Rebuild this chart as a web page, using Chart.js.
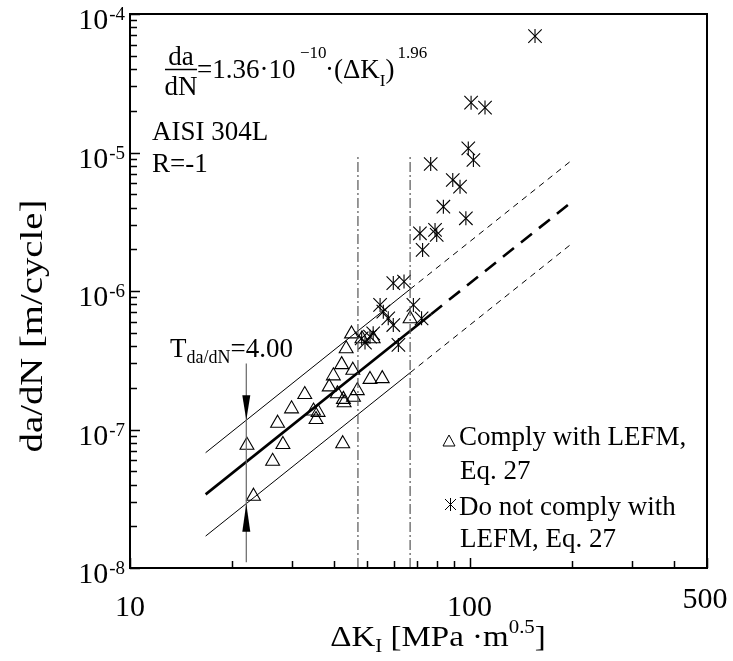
<!DOCTYPE html>
<html>
<head>
<meta charset="utf-8">
<script src="https://cdn.jsdelivr.net/npm/chart.js@4.4.0/dist/chart.umd.min.js"></script>
<style>
  html, body { margin: 0; padding: 0; background: #fff; }
  #wrap { width: 733px; height: 661px; }
</style>
</head>
<body>
<div id="wrap"><canvas id="fcgChart" width="733" height="661"></canvas></div>
<script>
// values (Delta K in MPa*m^0.5, da/dN in m/cycle)
const triK = [22.1, 23.1, 26.3, 28.2, 27.2, 29.9, 32.7, 34.7, 35.3, 35.8, 38.6, 39.7, 40.8, 42.0,
              42.3, 42.5, 42.7, 43.3, 44.9, 45.3, 45.5, 46.7, 48.2, 50.9, 52.0, 55.3, 66.8];
const triRate = [7.7e-8, 3.3e-8, 5.9e-8, 7.8e-8, 1.11e-7, 1.41e-7, 1.79e-7, 1.36e-7, 1.18e-7, 1.33e-7, 2.03e-7, 2.44e-7, 1.81e-7, 2.94e-7,
                 7.9e-8, 1.65e-7, 1.56e-7, 3.83e-7, 4.9e-7, 2.68e-7, 1.71e-7, 1.91e-7, 4.52e-7, 2.3e-7, 4.52e-7, 2.33e-7, 6.3e-7];

const starK = [155.8, 101, 111, 99.1, 102.6, 76.8, 89.2, 93.7, 83.7, 97.5, 71.4, 79.1, 80.0, 72.7,
               59.6, 64.1, 68.3, 72.2, 54.5, 55.7, 57.6, 59.6, 61.7, 52.0, 48.1, 49.2, 50.9];
const starRate = [6.93e-5, 2.29e-5, 2.11e-5, 1.07e-5, 8.83e-6, 8.26e-6, 6.33e-6, 5.67e-6, 4.06e-6, 3.35e-6, 2.61e-6, 2.76e-6, 2.54e-6, 1.98e-6,
                  1.14e-6, 1.17e-6, 7.93e-7, 6.35e-7, 7.93e-7, 7.09e-7, 6.35e-7, 5.68e-7, 4.08e-7, 4.95e-7, 4.55e-7, 4.24e-7, 4.68e-7];

// fitted curve and scatter band (solid part, then extrapolated dashed part)
const fitK = [16.7, 77, 200];
const fitRate = [3.4e-8, 6.8e-7, 4.4e-6];
const bandK = [16.7, 66.8, 200];
const bandUpper = [6.8e-8, 1.03e-6, 8.8e-6];
const bandLower = [1.7e-8, 2.57e-7, 2.2e-6];

// LEFM validity limits (dash-dot verticals)
const limitK = [46.9, 66.8];
const limitRate = [1e-8, 9.6e-6];

// scatter band marker T
const tK = 22.0;
const tSpan = [1.1e-8, 3.0e-7];
const arrowDown = [1.17e-7, 1.77e-7];   // tip, base
const arrowUp = [2.91e-8, 1.83e-8];     // tip, base

const xMajor = [10, 100, 500];
const xMajorLabels = ['10', '100', '500'];
const xMinor = [20, 30, 40, 50, 60, 70, 80, 90, 200, 300, 400];
const yMajorExp = [-8, -7, -6, -5, -4];

const SERIF = '"Liberation Serif", "Times New Roman", serif';

function pts(xs, ys) {
    return xs.map((v, i) => ({ x: v, y: ys[i] }));
}

function lineSet(xs, ys, width, dash, color) {
    return {
        data: pts(xs, ys),
        showLine: true,
        pointRadius: 0,
        borderColor: color || '#000',
        borderWidth: width,
        borderDash: dash || [],
        borderCapStyle: 'butt'
    };
}

// text made of pieces: [text, size, dy]
function runs(ctx, x, y, parts) {
    for (const [t, s, dy] of parts) {
        ctx.font = s + 'px ' + SERIF;
        ctx.fillText(t, x, y + dy);
        x += ctx.measureText(t).width;
    }
    return x;
}

const overlay = {
    id: 'overlay',
    afterDatasetsDraw(chart) {
        const { ctx, chartArea: a, scales: { x, y } } = chart;
        ctx.save();
        ctx.fillStyle = '#000';
        ctx.strokeStyle = '#000';

        // arrowheads of the T marker
        const ax = x.getPixelForValue(tK);
        [arrowDown, arrowUp].forEach(([tip, base]) => {
            const ty = y.getPixelForValue(tip), by = y.getPixelForValue(base);
            ctx.beginPath();
            ctx.moveTo(ax, ty);
            ctx.lineTo(ax - 4, by);
            ctx.lineTo(ax + 4, by);
            ctx.closePath();
            ctx.fill();
        });

        // frame
        ctx.lineWidth = 2;
        ctx.strokeRect(a.left, a.top, a.right - a.left, a.bottom - a.top);

        // ticks (inside)
        ctx.lineWidth = 1.5;
        ctx.beginPath();
        xMajor.forEach(v => {
            const px = Math.round(x.getPixelForValue(v)) + 0.5;
            ctx.moveTo(px, a.bottom); ctx.lineTo(px, a.bottom - 10);
        });
        xMinor.forEach(v => {
            const px = Math.round(x.getPixelForValue(v)) + 0.5;
            ctx.moveTo(px, a.bottom); ctx.lineTo(px, a.bottom - 7);
        });
        yMajorExp.forEach((e, i) => {
            const py = Math.round(y.getPixelForValue(Math.pow(10, e))) + 0.5;
            ctx.moveTo(a.left, py); ctx.lineTo(a.left + 10, py);
            if (i < yMajorExp.length - 1) {
                for (let m = 2; m <= 9; m++) {
                    const my = Math.round(y.getPixelForValue(m * Math.pow(10, e))) + 0.5;
                    ctx.moveTo(a.left, my); ctx.lineTo(a.left + 7, my);
                }
            }
        });
        ctx.stroke();

        // tick labels
        ctx.textBaseline = 'alphabetic';
        ctx.font = '30px ' + SERIF;
        ctx.textAlign = 'center';
        xMajor.forEach((v, i) => {
            const px = x.getPixelForValue(v);
            ctx.fillText(xMajorLabels[i], i === 2 ? px - 2 : px, i === 2 ? 608 : 616);
        });
        yMajorExp.forEach(e => {
            const py = y.getPixelForValue(Math.pow(10, e));
            ctx.textAlign = 'right';
            ctx.font = '19px ' + SERIF;
            ctx.fillText(String(e), a.left - 5, py + 6);
            const ew = ctx.measureText(String(e)).width;
            ctx.font = '30px ' + SERIF;
            ctx.fillText('10', a.left - 6 - ew, py + 15);
        });
        ctx.textAlign = 'left';

        // axis titles
        const xt = [['\u0394K', 30, 0], ['I', 19, 6], [' [MPa \u00b7m', 30, 0], ['0.5', 19, -13], [']', 30, 0]];
        let w = 0;
        xt.forEach(([t, s]) => { ctx.font = s + 'px ' + SERIF; w += ctx.measureText(t).width; });
        ctx.save();
        ctx.translate(438, 646);
        ctx.scale(1.1, 1);
        runs(ctx, -w / 2, 0, xt);
        ctx.restore();

        ctx.save();
        ctx.translate(42, 326);
        ctx.rotate(-Math.PI / 2);
        ctx.scale(1.25, 1);
        ctx.font = '31px ' + SERIF;
        ctx.textAlign = 'center';
        ctx.fillText('da/dN [m/cycle]', 0, 0);
        ctx.restore();

        // equation
        ctx.font = '27px ' + SERIF;
        ctx.textAlign = 'center';
        ctx.fillText('da', 181, 65);
        ctx.fillText('dN', 181, 95);
        ctx.textAlign = 'left';
        ctx.lineWidth = 1.5;
        ctx.beginPath();
        ctx.moveTo(165, 69.5); ctx.lineTo(197, 69.5);
        ctx.stroke();
        runs(ctx, 197, 78, [['=1.36\u00b710', 27, 0]]);
        runs(ctx, 300, 78, [['\u221210', 17, -20]]);
        const close = runs(ctx, 325, 78, [['\u00b7(\u0394K', 27, 0], ['I', 17, 8], [')', 27, 0]]);
        runs(ctx, close + 3, 78, [['1.96', 17, -20]]);

        ctx.font = '27px ' + SERIF;
        ctx.fillText('AISI 304L', 152, 140);
        ctx.fillText('R=-1', 152, 172);

        runs(ctx, 170, 357, [['T', 27, 0], ['da/dN', 18, 6], ['=4.00', 27, 0]]);

        // legend
        ctx.lineWidth = 1;
        ctx.beginPath();
        ctx.moveTo(449, 435); ctx.lineTo(443, 446); ctx.lineTo(455, 446); ctx.closePath();
        ctx.moveTo(450.5, 498); ctx.lineTo(450.5, 511);
        ctx.moveTo(445, 499); ctx.lineTo(456, 510);
        ctx.moveTo(456, 499); ctx.lineTo(445, 510);
        ctx.stroke();
        ctx.font = '27px ' + SERIF;
        ctx.fillText('Comply with LEFM,', 459, 445);
        ctx.fillText('Eq. 27', 460, 479);
        ctx.fillText('Do not comply with', 459, 515);
        ctx.fillText('LEFM, Eq. 27', 460, 547);

        ctx.restore();
    }
};

new Chart(document.getElementById('fcgChart').getContext('2d'), {
    type: 'scatter',
    data: {
        datasets: [
            lineSet([limitK[0], limitK[0]], limitRate, 1.2, [10, 3, 2, 3], '#555'),
            lineSet([limitK[1], limitK[1]], limitRate, 1.2, [10, 3, 2, 3], '#555'),
            lineSet([tK, tK], tSpan, 1.2, [], '#666'),
            lineSet(fitK.slice(0, 2), fitRate.slice(0, 2), 2.6),
            lineSet(fitK.slice(1), fitRate.slice(1), 2.6, [14, 9]),
            lineSet(bandK.slice(0, 2), bandUpper.slice(0, 2), 1),
            lineSet(bandK.slice(1), bandUpper.slice(1), 1, [6, 5]),
            lineSet(bandK.slice(0, 2), bandLower.slice(0, 2), 1),
            lineSet(bandK.slice(1), bandLower.slice(1), 1, [6, 5]),
            {
                label: 'Comply with LEFM, Eq. 27',
                data: pts(triK, triRate),
                pointStyle: 'triangle',
                pointRadius: 8,
                borderColor: '#000',
                backgroundColor: 'rgba(0,0,0,0)',
                borderWidth: 1.1
            },
            // asterisk marker = X plus a vertical stroke
            {
                label: 'Do not comply with LEFM, Eq. 27',
                data: pts(starK, starRate),
                pointStyle: 'crossRot',
                pointRadius: 9.5,
                borderColor: '#000',
                borderWidth: 1.1
            },
            {
                data: pts(starK, starRate),
                pointStyle: 'line',
                rotation: 90,
                pointRadius: 7,
                borderColor: '#000',
                borderWidth: 1.1
            }
        ]
    },
    options: {
        responsive: false,
        animation: false,
        layout: { padding: { left: 130, top: 14, right: 26, bottom: 93 } },
        plugins: {
            legend: { display: false },
            tooltip: { enabled: false }
        },
        scales: {
            x: { type: 'logarithmic', min: 10, max: 500, display: false },
            y: { type: 'logarithmic', min: 1e-8, max: 1e-4, display: false }
        }
    },
    plugins: [overlay]
});
</script>
</body>
</html>
